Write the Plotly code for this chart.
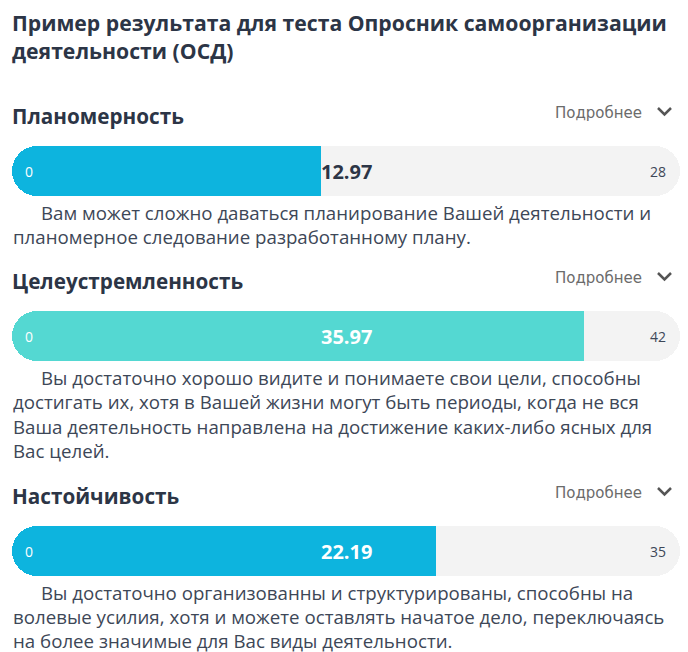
import plotly.graph_objects as go

W, H = 688, 652

title_lines = ["Пример результата для теста Опросник самоорганизации",
               "деятельности (ОСД)"]
scales = ["Планомерность", "Целеустремленность", "Настойчивость"]
values = [12.97, 35.97, 22.19]
maxima = [28, 42, 35]
fill_colors = ["#0db4de", "#54d8d2", "#0db4de"]
more_label = "Подробнее"
descriptions = [
    ["Вам может сложно даваться планирование Вашей деятельности и",
     "планомерное следование разработанному плану."],
    ["Вы достаточно хорошо видите и понимаете свои цели, способны",
     "достигать их, хотя в Вашей жизни могут быть периоды, когда не вся",
     "Ваша деятельность направлена на достижение каких-либо ясных для",
     "Вас целей."],
    ["Вы достаточно организованны и структурированы, способны на",
     "волевые усилия, хотя и можете оставлять начатое дело, переключаясь",
     "на более значимые для Вас виды деятельности."],
]

# layout (pixel positions)
bar_tops = [146, 311, 526]
bar_h = 50
header_y = [116, 281, 496]
desc_first_y = [212.5, 377.5, 592]
line_h = 24.3
x_left, x_right = 12, 680

HFONT = "Open Sans"
BFONT = "Open Sans"
DARK = "#2c3546"
TEXT = "#3d4757"
TRACK = "#f3f3f3"


def px(x):
    return x / W


def py(y):
    return 1 - y / H


fig = go.Figure()
annotations = []
shapes = []

for i, (name, v, m, c) in enumerate(zip(scales, values, maxima, fill_colors)):
    xa = "x" if i == 0 else f"x{i+1}"
    ya = "y" if i == 0 else f"y{i+1}"
    # axis whose zero sits at the value, so bars grow outward from the value
    # (rounded at their far ends, square where fill meets track)
    fig.add_trace(go.Bar(x=[m - v], y=[0], orientation="h",
                         marker=dict(color=TRACK, cornerradius=bar_h // 2, line_width=0),
                         width=1, xaxis=xa, yaxis=ya, hoverinfo="skip", showlegend=False))
    fig.add_trace(go.Bar(x=[-v], y=[0], orientation="h",
                         marker=dict(color=c, cornerradius=bar_h // 2, line_width=0),
                         width=1, xaxis=xa, yaxis=ya, showlegend=False,
                         hovertemplate=f"{name}: {v}<extra></extra>"))
    top = bar_tops[i]
    dom_y = [py(top + bar_h), py(top)]
    fig.update_layout(**{
        ("xaxis" if i == 0 else f"xaxis{i+1}"): dict(domain=[px(x_left), px(x_right)],
            range=[-v, m - v], visible=False, fixedrange=True, anchor=ya),
        ("yaxis" if i == 0 else f"yaxis{i+1}"): dict(domain=dom_y, range=[-0.5, 0.5],
            visible=False, fixedrange=True, anchor=xa),
    })
    # value label centered in the track
    covered = v / m >= 0.5
    annotations.append(dict(xref=xa, yref=ya, x=m / 2 - v, y=0, text=f"<b>{v:.2f}</b>",
                            showarrow=False, xanchor="center", yanchor="middle",
                            font=dict(family=HFONT, size=20, color="white" if covered else DARK)))
    annotations.append(dict(xref=xa, yref=ya, x=-v, y=0, text="0", xshift=11,
                            showarrow=False, xanchor="left", yanchor="middle",
                            font=dict(family=HFONT, size=14, color="white")))
    annotations.append(dict(xref=xa, yref=ya, x=m - v, y=0, text=str(m), xshift=-12,
                            showarrow=False, xanchor="right", yanchor="middle",
                            font=dict(family=HFONT, size=14, color=TEXT)))
    # header
    annotations.append(dict(xref="paper", yref="paper", x=px(10), y=py(header_y[i]),
                            text=f"<b>{name}</b>", showarrow=False, xanchor="left",
                            yanchor="middle", font=dict(family=HFONT, size=20.7, color=DARK)))
    annotations.append(dict(xref="paper", yref="paper", x=px(644), y=py(header_y[i] - 3),
                            text=more_label, showarrow=False, xanchor="right",
                            yanchor="middle", font=dict(family="DejaVu Sans", size=15, color="#6b6b6b")))
    cy = header_y[i] - 5
    shapes.append(dict(type="path", xref="paper", yref="paper",
                       path=f"M {px(658)} {py(cy-3)} L {px(664.5)} {py(cy+3.5)} L {px(671)} {py(cy-3)}",
                       line=dict(color="#555555", width=2.5)))
    # description lines
    for j, line in enumerate(descriptions[i]):
        annotations.append(dict(xref="paper", yref="paper",
                                x=px(39 if j == 0 else 11),
                                y=py(desc_first_y[i] + j * line_h), text=line,
                                showarrow=False, xanchor="left", yanchor="middle",
                                font=dict(family=BFONT, size=18.7, color=TEXT)))

for j, line in enumerate(title_lines):
    annotations.append(dict(xref="paper", yref="paper", x=px(10), y=py(22 + j * 28),
                            text=f"<b>{line}</b>", showarrow=False, xanchor="left",
                            yanchor="middle", font=dict(family=HFONT, size=21.2, color=DARK)))

fig.update_layout(width=W, height=H, margin=dict(l=0, r=0, t=0, b=0),
                  paper_bgcolor="white", plot_bgcolor="rgba(0,0,0,0)",
                  barmode="overlay", bargap=0, annotations=annotations, shapes=shapes,
                  showlegend=False)

fig.write_html("out.html", config={"displayModeBar": False})
